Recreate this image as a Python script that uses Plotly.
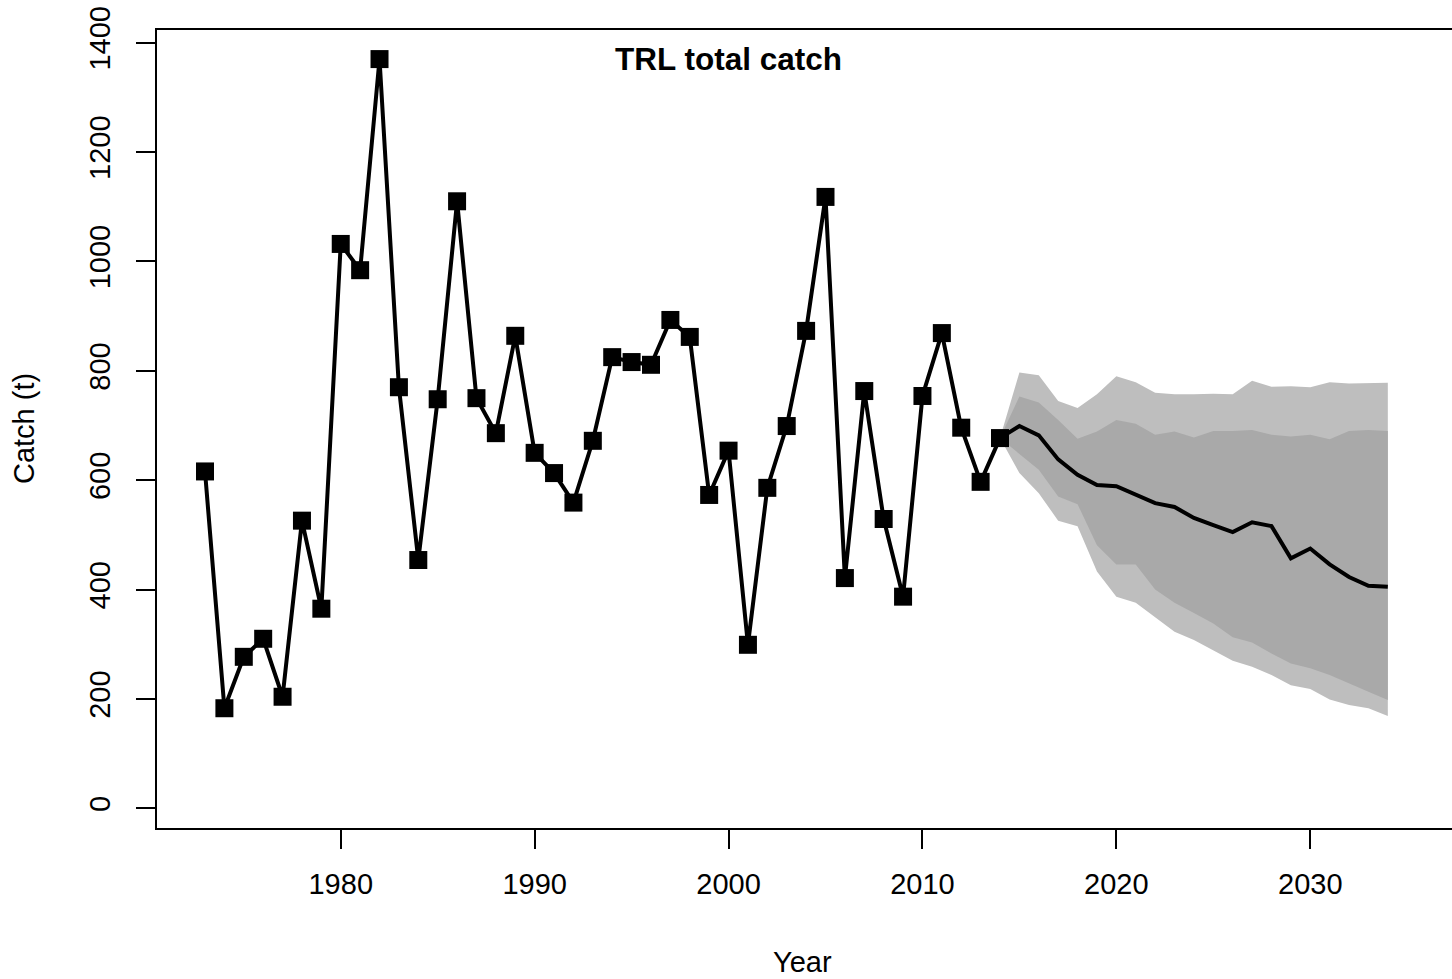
import plotly.graph_objects as go

# Historical catch (t)
hist_years = list(range(1973, 2015))
hist_catch = [616, 183, 277, 310, 204, 526, 365, 1032, 984, 1370,
              770, 454, 748, 1110, 750, 686, 864, 650, 613, 559,
              672, 825, 816, 811, 893, 862, 573, 654, 299, 586,
              699, 873, 1118, 421, 763, 529, 387, 754, 869, 696,
              597, 677]

# Projection (2014-2034)
proj_years = list(range(2014, 2035))
proj_median = [677, 699, 682, 638, 610, 591, 589, 574, 558, 551, 531,
               518, 505, 523, 516, 457, 475, 446, 423, 407, 405]
outer_hi = [677, 797, 792, 745, 732, 757, 790, 779, 760, 757, 757,
            758, 757, 782, 771, 772, 770, 779, 777, 777, 778]
inner_hi = [677, 753, 742, 710, 676, 689, 710, 703, 683, 689, 678,
            690, 690, 692, 683, 680, 683, 675, 690, 692, 690]
inner_lo = [677, 648, 619, 570, 556, 481, 446, 446, 400, 376, 357,
            338, 313, 303, 283, 265, 256, 244, 229, 213, 198]
outer_lo = [677, 613, 576, 526, 516, 433, 387, 376, 350, 323, 308,
            289, 270, 259, 244, 225, 218, 199, 189, 183, 169]

x_ticks = [1980, 1990, 2000, 2010, 2020, 2030]
y_ticks = [0, 200, 400, 600, 800, 1000, 1200, 1400]

FONT = "Liberation Sans, Arial, Helvetica, sans-serif"

fig = go.Figure()

fig.add_trace(go.Scatter(
    x=proj_years + proj_years[::-1],
    y=outer_hi + outer_lo[::-1],
    fill="toself", fillcolor="#BEBEBE", line=dict(width=0),
    mode="lines", hoverinfo="skip", showlegend=False))
fig.add_trace(go.Scatter(
    x=proj_years + proj_years[::-1],
    y=inner_hi + inner_lo[::-1],
    fill="toself", fillcolor="#A9A9A9", line=dict(width=0),
    mode="lines", hoverinfo="skip", showlegend=False))
fig.add_trace(go.Scatter(
    x=proj_years, y=proj_median, mode="lines",
    line=dict(color="black", width=4), showlegend=False))
fig.add_trace(go.Scatter(
    x=hist_years, y=hist_catch, mode="lines+markers",
    line=dict(color="black", width=4),
    marker=dict(symbol="square", size=18, color="black"),
    showlegend=False))

fig.add_annotation(x=2000, y=1370, xref="x", yref="y",
                   text="<b>TRL total catch</b>", showarrow=False,
                   font=dict(family=FONT, size=31.5, color="black"),
                   xanchor="center", yanchor="middle")
fig.add_annotation(x=0.4984, y=-0.1685, xref="paper", yref="paper",
                   text="Year", showarrow=False,
                   font=dict(family=FONT, size=29, color="black"),
                   xanchor="center", yanchor="middle")
fig.add_annotation(x=-0.1027, y=0.5, xref="paper", yref="paper",
                   text="Catch (t)", showarrow=False, textangle=-90,
                   font=dict(family=FONT, size=29, color="black"),
                   xanchor="center", yanchor="middle")

fig.update_layout(
    width=1452, height=979,
    margin=dict(l=157, r=0, t=30, b=151),
    plot_bgcolor="white", paper_bgcolor="white",
    font=dict(family=FONT, size=29, color="black"),
    showlegend=False,
)
fig.update_xaxes(
    range=[1970.524, 2037.31], tickvals=x_ticks,
    ticks="outside", ticklen=19, tickwidth=2, tickcolor="black",
    ticklabelstandoff=10,
    showline=True, linecolor="black", linewidth=2, mirror=True,
    showgrid=False, zeroline=False,
    tickfont=dict(family=FONT, size=29, color="black"),
)
fig.update_yaxes(
    range=[-36.0, 1423.2], tickvals=y_ticks, tickangle=-90,
    ticks="outside", ticklen=19, tickwidth=2, tickcolor="black",
    ticklabelstandoff=14,
    showline=True, linecolor="black", linewidth=2, mirror=False,
    showgrid=False, zeroline=False,
    tickfont=dict(family=FONT, size=29, color="black"),
)

fig.write_html("out.html",
               config={"displayModeBar": False},
               post_script="document.body.style.margin='0';"
                           "document.body.style.overflow='hidden';")
